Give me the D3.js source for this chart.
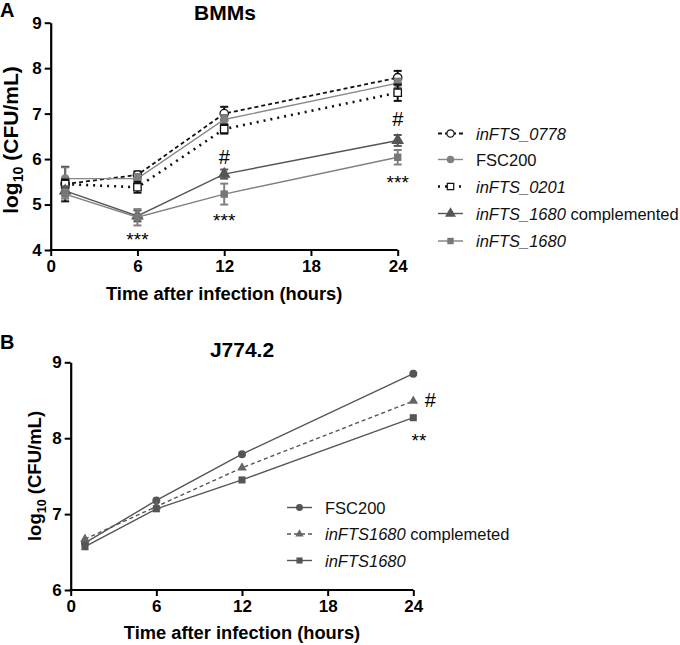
<!DOCTYPE html>
<html><head><meta charset="utf-8">
<script src="https://cdn.jsdelivr.net/npm/d3@7"></script>
<style>body{margin:0;background:#fff}svg{display:block;font-family:"Liberation Sans",Arial,sans-serif}</style>
</head><body><svg id="c" width="680" height="645"></svg>
<script>
// ---------- Data ----------
const timesA = [1, 6, 12, 24];
const xTicks = [0, 6, 12, 18, 24];
const yTicksA = [4, 5, 6, 7, 8, 9];
const yTicksB = [6, 7, 8, 9];

const namesA = ["inFTS_0778", "FSC200", "inFTS_0201", "inFTS_1680 complemented", "inFTS_1680"];
const a0778 = [5.45, 5.65, 7.00, 7.79];
const a0778Err = [0.38, 0.08, 0.15, 0.15];
const aFSC = [5.57, 5.57, 6.87, 7.67];
const aFSCErr = [0.25, 0.10, 0.10, 0.10];
const a0201 = [5.45, 5.38, 6.66, 7.46];
const a0201Err = [0.10, 0.12, 0.10, 0.18];
const a1680c = [5.30, 4.75, 5.67, 6.41];
const a1680cErr = [0.10, 0.12, 0.10, 0.12];
const a1680 = [5.23, 4.72, 5.23, 6.04];
const a1680Err = [0.10, 0.18, 0.23, 0.16];

const timesB = [1, 6, 12, 24];
const namesB = ["FSC200", "inFTS1680 complemeted", "inFTS1680"];
const bFSC = [6.62, 7.18, 7.79, 8.85];
const b1680c = [6.67, 7.10, 7.61, 8.49];
const b1680 = [6.57, 7.07, 7.45, 8.27];

const annotA = [
  {t: 6, v: 4.09, s: "***"},
  {t: 12, v: 4.50, s: "***"},
  {t: 12, v: 5.89, s: "#"},
  {t: 24, v: 6.73, s: "#"},
  {t: 24, v: 5.35, s: "***"}
];
const annotB = [
  {t: 25.2, v: 8.41, s: "#"},
  {t: 24.4, v: 7.89, s: "**"}
];

// ---------- Drawing ----------
const svg = d3.select("#c");
const FONT = '"Liberation Sans",Arial,sans-serif';

function symbolPath(type, size) {
  return d3.symbol().type(type).size(size)();
}

function drawPanel(cfg) {
  const g = svg.append("g");
  const x = d3.scaleLinear().domain([0, 24]).range(cfg.xr);
  const y = d3.scaleLinear().domain(cfg.yd).range(cfg.yr);

  const xa = g.append("g").attr("transform", `translate(0,${cfg.yr[0]})`)
    .call(d3.axisBottom(x).tickValues(xTicks).tickFormat(d3.format("d")).tickSize(6).tickSizeOuter(0).tickPadding(4));
  const ya = g.append("g").attr("transform", `translate(${cfg.xr[0]},0)`)
    .call(d3.axisLeft(y).tickValues(cfg.yTicks).tickFormat(d3.format("d")).tickSize(6).tickSizeOuter(0).tickPadding(3));
  [xa, ya].forEach(a => {
    a.select(".domain").attr("stroke", "#000").attr("stroke-width", 2.2);
    a.selectAll(".tick line").attr("stroke", "#000").attr("stroke-width", 2);
    a.selectAll(".tick text").attr("fill", "#000").attr("font-size", 17).attr("font-weight", "bold")
      .attr("font-family", FONT);
  });
  xa.select(".domain").attr("d", `M${cfg.xr[0]-1},0H${cfg.xr[1]}`);

  // titles
  g.append("text").attr("x", cfg.titleX).attr("y", cfg.titleY).attr("text-anchor", "middle")
    .attr("font-size", 21).attr("font-weight", "bold").text(cfg.title);
  g.append("text").attr("x", 0).attr("y", cfg.letterY)
    .attr("font-size", 20).attr("font-weight", "bold").text(cfg.letter);
  g.append("text").attr("x", (cfg.xr[0] + cfg.xr[1]) / 2).attr("y", cfg.xTitleY).attr("text-anchor", "middle")
    .attr("font-size", 18.3).attr("font-weight", "bold").text("Time after infection (hours)");
  const yl = g.append("text")
    .attr("transform", `translate(${cfg.yTitleX},${cfg.yTitleY}) rotate(-90)`)
    .attr("text-anchor", "middle").attr("font-size", cfg.yTitleSize).attr("font-weight", "bold");
  yl.append("tspan").text("log");
  yl.append("tspan").attr("font-size", cfg.yTitleSize * 0.68).attr("dy", 5).text("10");
  yl.append("tspan").attr("dy", -5).text(" (CFU/mL)");

  const line = d3.line().x(d => x(d[0])).y(d => y(d[1]));

  cfg.series.forEach(s => {
    const pts = cfg.times.map((t, i) => [t, s.vals[i], s.err ? s.err[i] : 0]);
    if (s.err) {
      pts.forEach(p => {
        const eg = g.append("g").attr("stroke", s.errColor || s.color).attr("stroke-width", 2);
        eg.append("line").attr("x1", x(p[0])).attr("x2", x(p[0])).attr("y1", y(p[1] - p[2])).attr("y2", y(p[1] + p[2]));
        eg.append("line").attr("x1", x(p[0]) - 4).attr("x2", x(p[0]) + 4).attr("y1", y(p[1] + p[2])).attr("y2", y(p[1] + p[2]));
        eg.append("line").attr("x1", x(p[0]) - 4).attr("x2", x(p[0]) + 4).attr("y1", y(p[1] - p[2])).attr("y2", y(p[1] - p[2]));
      });
    }
    g.append("path").datum(pts).attr("d", line).attr("fill", "none")
      .attr("stroke", s.color).attr("stroke-width", s.width || 1.4)
      .attr("stroke-dasharray", s.dash || null);
    g.selectAll(null).data(pts).join("path")
      .attr("transform", p => `translate(${x(p[0])},${y(p[1])})`)
      .attr("d", symbolPath(s.sym, s.size))
      .attr("fill", s.fill).attr("stroke", s.stroke || "none").attr("stroke-width", 1.3);
  });

  cfg.annot.forEach(a => {
    g.append("text").attr("x", x(a.t)).attr("y", y(a.v)).attr("text-anchor", "middle")
      .attr("font-size", a.s === "#" ? 20 : 19).attr("fill", "#000").text(a.s);
  });

  // legend
  cfg.series.forEach((s, i) => {
    const ly = cfg.legY[i];
    const lg = g.append("g");
    lg.append("line").attr("x1", cfg.legX).attr("x2", cfg.legX + 25).attr("y1", ly).attr("y2", ly)
      .attr("stroke", s.color).attr("stroke-width", s.width || 1.4).attr("stroke-dasharray", s.dash || null);
    lg.append("path").attr("transform", `translate(${cfg.legX + 12.5},${ly})`)
      .attr("d", symbolPath(s.sym, s.size * 0.75))
      .attr("fill", s.fill).attr("stroke", s.stroke || "none").attr("stroke-width", 1.2);
    const t = lg.append("text").attr("x", cfg.legX + 38).attr("y", ly + 6).attr("font-size", 16.5).attr("fill", "#111");
    s.label.forEach(part => t.append("tspan").attr("font-style", part[1] ? "italic" : "normal").text(part[0]));
  });
}

drawPanel({
  xr: [50.7, 397.7], yd: [4, 9], yr: [250, 22.7], yTicks: yTicksA,
  title: "BMMs", titleX: 225, titleY: 20, letter: "A", letterY: 17,
  xTitleY: 300, yTitleX: 18, yTitleY: 140, yTitleSize: 21, times: timesA,
  series: [
    {vals: a0778, err: a0778Err, color: "#111", errColor: "#111", dash: "4,3", width: 1.8, sym: d3.symbolCircle, size: 55, fill: "#fff", stroke: "#111", label: [[namesA[0], true]]},
    {vals: aFSC, err: aFSCErr, color: "#888", errColor: "#777", sym: d3.symbolCircle, size: 60, fill: "#808080", label: [[namesA[1], false]]},
    {vals: a0201, err: a0201Err, color: "#111", errColor: "#111", dash: "2,5", width: 2.6, sym: d3.symbolSquare, size: 55, fill: "#fff", stroke: "#111", label: [[namesA[2], true]]},
    {vals: a1680c, err: a1680cErr, color: "#555", errColor: "#555", sym: d3.symbolTriangle, size: 70, fill: "#555", label: [["inFTS_1680", true], [" complemented", false]]},
    {vals: a1680, err: a1680Err, color: "#808080", errColor: "#808080", sym: d3.symbolSquare, size: 55, fill: "#777", label: [[namesA[4], true]]}
  ],
  annot: annotA,
  legX: 438, legY: [133.5, 159.5, 186.5, 213.5, 241]
});

drawPanel({
  xr: [70.7, 413.3], yd: [6, 9], yr: [590, 362.3], yTicks: yTicksB,
  title: "J774.2", titleX: 242, titleY: 357, letter: "B", letterY: 349,
  xTitleY: 639, yTitleX: 41, yTitleY: 476, yTitleSize: 18.5, times: timesB,
  series: [
    {vals: bFSC, color: "#555", sym: d3.symbolCircle, size: 50, fill: "#555", label: [[namesB[0], false]]},
    {vals: b1680c, color: "#555", dash: "4,3", sym: d3.symbolTriangle, size: 40, fill: "#666", label: [["inFTS1680", true], [" complemeted", false]]},
    {vals: b1680, color: "#555", sym: d3.symbolSquare, size: 50, fill: "#555", label: [[namesB[2], true]]}
  ],
  annot: annotB,
  legX: 287, legY: [507.5, 534, 560.5]
});
</script></body></html>
